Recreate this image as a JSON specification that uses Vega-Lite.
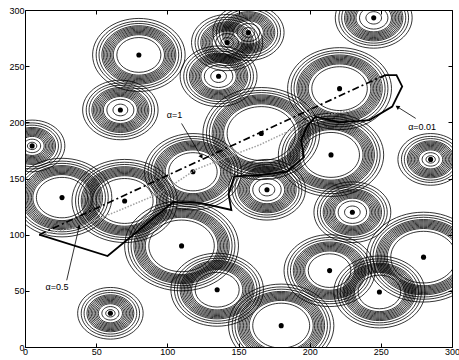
{
  "$schema": "https://vega.github.io/schema/vega-lite/v6.json",
  "width": 427,
  "height": 337,
  "autosize": {"type": "none"},
  "padding": {"left": 25, "top": 10, "right": 7, "bottom": 13},
  "background": "white",
  "config": {
    "view": {"stroke": "black", "strokeWidth": 1},
    "axis": {"domain": false, "grid": false, "title": null, "tickColor": "black", "tickSize": -4, "tickWidth": 1, "labelPadding": 4, "labelFontSize": 9, "labelFont": "Liberation Sans", "labelColor": "black", "labelFlush": false, "labelOverlap": false}
  },
  "datasets": {
    "rings": [
      {"x":80,"y":260,"r":15.5},{"x":80,"y":260,"r":18},{"x":80,"y":260,"r":19},{"x":80,"y":260,"r":20},{"x":80,"y":260,"r":21},{"x":80,"y":260,"r":22},{"x":80,"y":260,"r":23},{"x":80,"y":260,"r":24},{"x":80,"y":260,"r":25},{"x":80,"y":260,"r":26},{"x":80,"y":260,"r":28},{"x":80,"y":260,"r":30},{"x":80,"y":260,"r":32.5},
      {"x":67,"y":211,"r":5.2},{"x":67,"y":211,"r":9.5},{"x":67,"y":211,"r":12},{"x":67,"y":211,"r":13},{"x":67,"y":211,"r":14},{"x":67,"y":211,"r":15},{"x":67,"y":211,"r":16},{"x":67,"y":211,"r":17},{"x":67,"y":211,"r":18},{"x":67,"y":211,"r":19},{"x":67,"y":211,"r":20},{"x":67,"y":211,"r":22},{"x":67,"y":211,"r":24},{"x":67,"y":211,"r":26.5},
      {"x":5,"y":179,"r":3.3},{"x":5,"y":179,"r":6},{"x":5,"y":179,"r":8.5},{"x":5,"y":179,"r":9.5},{"x":5,"y":179,"r":10.5},{"x":5,"y":179,"r":11.5},{"x":5,"y":179,"r":12.5},{"x":5,"y":179,"r":13.5},{"x":5,"y":179,"r":14.5},{"x":5,"y":179,"r":15.5},{"x":5,"y":179,"r":16.5},{"x":5,"y":179,"r":18.5},{"x":5,"y":179,"r":20.5},{"x":5,"y":179,"r":23},
      {"x":157,"y":280,"r":4.4},{"x":157,"y":280,"r":8},{"x":157,"y":280,"r":10.5},{"x":157,"y":280,"r":11.5},{"x":157,"y":280,"r":12.5},{"x":157,"y":280,"r":13.5},{"x":157,"y":280,"r":14.5},{"x":157,"y":280,"r":15.5},{"x":157,"y":280,"r":16.5},{"x":157,"y":280,"r":17.5},{"x":157,"y":280,"r":18.5},{"x":157,"y":280,"r":20.5},{"x":157,"y":280,"r":22.5},{"x":157,"y":280,"r":25},
      {"x":142,"y":271,"r":4.4},{"x":142,"y":271,"r":8},{"x":142,"y":271,"r":10.5},{"x":142,"y":271,"r":11.5},{"x":142,"y":271,"r":12.5},{"x":142,"y":271,"r":13.5},{"x":142,"y":271,"r":14.5},{"x":142,"y":271,"r":15.5},{"x":142,"y":271,"r":16.5},{"x":142,"y":271,"r":17.5},{"x":142,"y":271,"r":18.5},{"x":142,"y":271,"r":20.5},{"x":142,"y":271,"r":22.5},{"x":142,"y":271,"r":25},
      {"x":136,"y":241,"r":5.5},{"x":136,"y":241,"r":10},{"x":136,"y":241,"r":12.5},{"x":136,"y":241,"r":13.5},{"x":136,"y":241,"r":14.5},{"x":136,"y":241,"r":15.5},{"x":136,"y":241,"r":16.5},{"x":136,"y":241,"r":17.5},{"x":136,"y":241,"r":18.5},{"x":136,"y":241,"r":19.5},{"x":136,"y":241,"r":20.5},{"x":136,"y":241,"r":22.5},{"x":136,"y":241,"r":24.5},{"x":136,"y":241,"r":27},
      {"x":166,"y":190,"r":24},{"x":166,"y":190,"r":26.5},{"x":166,"y":190,"r":27.5},{"x":166,"y":190,"r":28.5},{"x":166,"y":190,"r":29.5},{"x":166,"y":190,"r":30.5},{"x":166,"y":190,"r":31.5},{"x":166,"y":190,"r":32.5},{"x":166,"y":190,"r":33.5},{"x":166,"y":190,"r":34.5},{"x":166,"y":190,"r":36.5},{"x":166,"y":190,"r":38.5},{"x":166,"y":190,"r":41},
      {"x":118,"y":156,"r":17},{"x":118,"y":156,"r":19.5},{"x":118,"y":156,"r":20.5},{"x":118,"y":156,"r":21.5},{"x":118,"y":156,"r":22.5},{"x":118,"y":156,"r":23.5},{"x":118,"y":156,"r":24.5},{"x":118,"y":156,"r":25.5},{"x":118,"y":156,"r":26.5},{"x":118,"y":156,"r":27.5},{"x":118,"y":156,"r":29.5},{"x":118,"y":156,"r":31.5},{"x":118,"y":156,"r":34},
      {"x":245,"y":293,"r":5.5},{"x":245,"y":293,"r":10},{"x":245,"y":293,"r":12.5},{"x":245,"y":293,"r":13.5},{"x":245,"y":293,"r":14.5},{"x":245,"y":293,"r":15.5},{"x":245,"y":293,"r":16.5},{"x":245,"y":293,"r":17.5},{"x":245,"y":293,"r":18.5},{"x":245,"y":293,"r":19.5},{"x":245,"y":293,"r":20.5},{"x":245,"y":293,"r":22.5},{"x":245,"y":293,"r":24.5},{"x":245,"y":293,"r":27},
      {"x":221,"y":230,"r":19.5},{"x":221,"y":230,"r":22},{"x":221,"y":230,"r":23},{"x":221,"y":230,"r":24},{"x":221,"y":230,"r":25},{"x":221,"y":230,"r":26},{"x":221,"y":230,"r":27},{"x":221,"y":230,"r":28},{"x":221,"y":230,"r":29},{"x":221,"y":230,"r":30},{"x":221,"y":230,"r":32},{"x":221,"y":230,"r":34},{"x":221,"y":230,"r":36.5},
      {"x":215,"y":171,"r":20},{"x":215,"y":171,"r":22.5},{"x":215,"y":171,"r":23.5},{"x":215,"y":171,"r":24.5},{"x":215,"y":171,"r":25.5},{"x":215,"y":171,"r":26.5},{"x":215,"y":171,"r":27.5},{"x":215,"y":171,"r":28.5},{"x":215,"y":171,"r":29.5},{"x":215,"y":171,"r":30.5},{"x":215,"y":171,"r":32.5},{"x":215,"y":171,"r":34.5},{"x":215,"y":171,"r":37},
      {"x":285,"y":167,"r":3.3},{"x":285,"y":167,"r":6},{"x":285,"y":167,"r":8.5},{"x":285,"y":167,"r":9.5},{"x":285,"y":167,"r":10.5},{"x":285,"y":167,"r":11.5},{"x":285,"y":167,"r":12.5},{"x":285,"y":167,"r":13.5},{"x":285,"y":167,"r":14.5},{"x":285,"y":167,"r":15.5},{"x":285,"y":167,"r":16.5},{"x":285,"y":167,"r":18.5},{"x":285,"y":167,"r":20.5},{"x":285,"y":167,"r":23},
      {"x":26,"y":133,"r":18},{"x":26,"y":133,"r":20.5},{"x":26,"y":133,"r":21.5},{"x":26,"y":133,"r":22.5},{"x":26,"y":133,"r":23.5},{"x":26,"y":133,"r":24.5},{"x":26,"y":133,"r":25.5},{"x":26,"y":133,"r":26.5},{"x":26,"y":133,"r":27.5},{"x":26,"y":133,"r":28.5},{"x":26,"y":133,"r":30.5},{"x":26,"y":133,"r":32.5},{"x":26,"y":133,"r":35},
      {"x":70,"y":130,"r":20},{"x":70,"y":130,"r":22.5},{"x":70,"y":130,"r":23.5},{"x":70,"y":130,"r":24.5},{"x":70,"y":130,"r":25.5},{"x":70,"y":130,"r":26.5},{"x":70,"y":130,"r":27.5},{"x":70,"y":130,"r":28.5},{"x":70,"y":130,"r":29.5},{"x":70,"y":130,"r":30.5},{"x":70,"y":130,"r":32.5},{"x":70,"y":130,"r":34.5},{"x":70,"y":130,"r":37},
      {"x":60,"y":30,"r":3.3},{"x":60,"y":30,"r":6},{"x":60,"y":30,"r":8.5},{"x":60,"y":30,"r":9.5},{"x":60,"y":30,"r":10.5},{"x":60,"y":30,"r":11.5},{"x":60,"y":30,"r":12.5},{"x":60,"y":30,"r":13.5},{"x":60,"y":30,"r":14.5},{"x":60,"y":30,"r":15.5},{"x":60,"y":30,"r":16.5},{"x":60,"y":30,"r":18.5},{"x":60,"y":30,"r":20.5},{"x":60,"y":30,"r":23},
      {"x":170,"y":140,"r":5.5},{"x":170,"y":140,"r":10},{"x":170,"y":140,"r":12.5},{"x":170,"y":140,"r":13.5},{"x":170,"y":140,"r":14.5},{"x":170,"y":140,"r":15.5},{"x":170,"y":140,"r":16.5},{"x":170,"y":140,"r":17.5},{"x":170,"y":140,"r":18.5},{"x":170,"y":140,"r":19.5},{"x":170,"y":140,"r":20.5},{"x":170,"y":140,"r":22.5},{"x":170,"y":140,"r":24.5},{"x":170,"y":140,"r":27},
      {"x":110,"y":90,"r":23},{"x":110,"y":90,"r":25.5},{"x":110,"y":90,"r":26.5},{"x":110,"y":90,"r":27.5},{"x":110,"y":90,"r":28.5},{"x":110,"y":90,"r":29.5},{"x":110,"y":90,"r":30.5},{"x":110,"y":90,"r":31.5},{"x":110,"y":90,"r":32.5},{"x":110,"y":90,"r":33.5},{"x":110,"y":90,"r":35.5},{"x":110,"y":90,"r":37.5},{"x":110,"y":90,"r":40},
      {"x":135,"y":51,"r":15.5},{"x":135,"y":51,"r":18},{"x":135,"y":51,"r":19},{"x":135,"y":51,"r":20},{"x":135,"y":51,"r":21},{"x":135,"y":51,"r":22},{"x":135,"y":51,"r":23},{"x":135,"y":51,"r":24},{"x":135,"y":51,"r":25},{"x":135,"y":51,"r":26},{"x":135,"y":51,"r":28},{"x":135,"y":51,"r":30},{"x":135,"y":51,"r":32.5},
      {"x":180,"y":19,"r":20},{"x":180,"y":19,"r":22.5},{"x":180,"y":19,"r":23.5},{"x":180,"y":19,"r":24.5},{"x":180,"y":19,"r":25.5},{"x":180,"y":19,"r":26.5},{"x":180,"y":19,"r":27.5},{"x":180,"y":19,"r":28.5},{"x":180,"y":19,"r":29.5},{"x":180,"y":19,"r":30.5},{"x":180,"y":19,"r":32.5},{"x":180,"y":19,"r":34.5},{"x":180,"y":19,"r":37},
      {"x":230,"y":120,"r":5.5},{"x":230,"y":120,"r":10},{"x":230,"y":120,"r":12.5},{"x":230,"y":120,"r":13.5},{"x":230,"y":120,"r":14.5},{"x":230,"y":120,"r":15.5},{"x":230,"y":120,"r":16.5},{"x":230,"y":120,"r":17.5},{"x":230,"y":120,"r":18.5},{"x":230,"y":120,"r":19.5},{"x":230,"y":120,"r":20.5},{"x":230,"y":120,"r":22.5},{"x":230,"y":120,"r":24.5},{"x":230,"y":120,"r":27},
      {"x":214,"y":68,"r":15},{"x":214,"y":68,"r":17.5},{"x":214,"y":68,"r":18.5},{"x":214,"y":68,"r":19.5},{"x":214,"y":68,"r":20.5},{"x":214,"y":68,"r":21.5},{"x":214,"y":68,"r":22.5},{"x":214,"y":68,"r":23.5},{"x":214,"y":68,"r":24.5},{"x":214,"y":68,"r":25.5},{"x":214,"y":68,"r":27.5},{"x":214,"y":68,"r":29.5},{"x":214,"y":68,"r":32},
      {"x":249,"y":49,"r":15},{"x":249,"y":49,"r":17.5},{"x":249,"y":49,"r":18.5},{"x":249,"y":49,"r":19.5},{"x":249,"y":49,"r":20.5},{"x":249,"y":49,"r":21.5},{"x":249,"y":49,"r":22.5},{"x":249,"y":49,"r":23.5},{"x":249,"y":49,"r":24.5},{"x":249,"y":49,"r":25.5},{"x":249,"y":49,"r":27.5},{"x":249,"y":49,"r":29.5},{"x":249,"y":49,"r":32},
      {"x":280,"y":80,"r":23},{"x":280,"y":80,"r":25.5},{"x":280,"y":80,"r":26.5},{"x":280,"y":80,"r":27.5},{"x":280,"y":80,"r":28.5},{"x":280,"y":80,"r":29.5},{"x":280,"y":80,"r":30.5},{"x":280,"y":80,"r":31.5},{"x":280,"y":80,"r":32.5},{"x":280,"y":80,"r":33.5},{"x":280,"y":80,"r":35.5},{"x":280,"y":80,"r":37.5},{"x":280,"y":80,"r":40}
    ],
    "centers": [
      {"x":80,"y":260},{"x":67,"y":211},{"x":5,"y":179},{"x":157,"y":280},{"x":142,"y":271},{"x":136,"y":241},{"x":166,"y":190},{"x":118,"y":156},{"x":245,"y":293},{"x":221,"y":230},{"x":215,"y":171},{"x":285,"y":167},{"x":26,"y":133},{"x":70,"y":130},{"x":60,"y":30},{"x":170,"y":140},{"x":110,"y":90},{"x":135,"y":51},{"x":180,"y":19},{"x":230,"y":120},{"x":214,"y":68},{"x":249,"y":49},{"x":280,"y":80}
    ],
    "paths": [
      {"p":"d","i":0,"x":10,"y":100},{"p":"d","i":1,"x":250,"y":240.5},
      {"p":"g","i":0,"x":10,"y":100},{"p":"g","i":1,"x":38,"y":107},{"p":"g","i":2,"x":65,"y":121},{"p":"g","i":3,"x":95,"y":137},{"p":"g","i":4,"x":120,"y":158},{"p":"g","i":5,"x":140,"y":168},{"p":"g","i":6,"x":165,"y":180},{"p":"g","i":7,"x":190,"y":195},{"p":"g","i":8,"x":205,"y":205},{"p":"g","i":9,"x":225,"y":210},{"p":"g","i":10,"x":245,"y":212},{"p":"g","i":11,"x":250,"y":225},{"p":"g","i":12,"x":250,"y":240},
      {"p":"s","i":0,"x":10,"y":100},{"p":"s","i":1,"x":58,"y":81},{"p":"s","i":2,"x":104,"y":129},{"p":"s","i":3,"x":124,"y":128},{"p":"s","i":4,"x":145,"y":122},{"p":"s","i":5,"x":143,"y":136},{"p":"s","i":6,"x":147,"y":152},{"p":"s","i":7,"x":165,"y":153},{"p":"s","i":8,"x":184,"y":156},{"p":"s","i":9,"x":196,"y":169},{"p":"s","i":10,"x":194,"y":184},{"p":"s","i":11,"x":198,"y":196},{"p":"s","i":12,"x":204,"y":205},{"p":"s","i":13,"x":221,"y":200},{"p":"s","i":14,"x":242,"y":202},{"p":"s","i":15,"x":258,"y":214},{"p":"s","i":16,"x":265,"y":232},{"p":"s","i":17,"x":261,"y":242},{"p":"s","i":18,"x":253,"y":242},{"p":"s","i":19,"x":250,"y":240}
    ],
    "arrows": [
      {"a":"a1","i":0,"x":110,"y":199},{"a":"a1","i":1,"x":124,"y":169.3},
      {"a":"a05","i":0,"x":29.3,"y":59.4},{"a":"a05","i":1,"x":38,"y":107},
      {"a":"a001","i":0,"x":274.5,"y":203.5},{"a":"a001","i":1,"x":261.6,"y":213.8}
    ],
    "heads": [
      {"a":"a1","x":124,"y":169.3},{"a":"a05","x":38,"y":107},{"a":"a001","x":261.6,"y":213.8}
    ],
    "labels": [
      {"t":"α=1","x":105,"y":206.5},{"t":"α=0.5","x":22.5,"y":53},{"t":"α=0.01","x":279,"y":196}
    ]
  },
  "resolve": {"axis": {"x": "independent", "y": "independent"}},
  "layer": [
    {
      "data": {"name": "rings"},
      "mark": {"type": "point", "shape": "M1,0C1,0.4358,0.5523,0.789,0,0.789C-0.5523,0.789,-1,0.4358,-1,0C-1,-0.4358,-0.5523,-0.789,0,-0.789C0.5523,-0.789,1,-0.4358,1,0Z", "filled": false, "color": "black", "stroke": "black", "strokeWidth": 0.8, "opacity": 1, "clip": true},
      "encoding": {
        "x": {"field": "x", "type": "quantitative", "scale": {"domain": [0, 300], "nice": false, "zero": false}, "axis": {"orient": "bottom", "values": [0, 50, 100, 150, 200, 250, 300], "labelPadding": 4, "labelBaseline": "top"}},
        "y": {"field": "y", "type": "quantitative", "scale": {"domain": [0, 300], "nice": false, "zero": false}, "axis": {"orient": "left", "values": [0, 50, 100, 150, 200, 250, 300], "labelPadding": 5}},
        "size": {"field": "r", "type": "quantitative", "scale": {"type": "pow", "exponent": 2, "domain": [0, 50], "range": [0, 20259]}, "legend": null}
      }
    },
    {
      "data": {"name": "centers"},
      "mark": {"type": "point", "shape": "circle", "filled": true, "color": "black", "size": 26, "opacity": 1},
      "encoding": {
        "x": {"field": "x", "type": "quantitative", "scale": {"domain": [0, 300], "nice": false, "zero": false}, "axis": {"orient": "top", "labels": false, "values": [0, 50, 100, 150, 200, 250, 300]}},
        "y": {"field": "y", "type": "quantitative", "scale": {"domain": [0, 300], "nice": false, "zero": false}, "axis": {"orient": "right", "labels": false, "values": [0, 50, 100, 150, 200, 250, 300]}}
      }
    },
    {
      "data": {"name": "paths"},
      "transform": [{"filter": "datum.p === 'g'"}],
      "mark": {"type": "line", "color": "#a0a0a0", "strokeWidth": 1.5, "strokeDash": [1.5, 1.5]},
      "encoding": {
        "x": {"field": "x", "type": "quantitative", "scale": {"domain": [0, 300]}, "axis": null},
        "y": {"field": "y", "type": "quantitative", "scale": {"domain": [0, 300]}, "axis": null},
        "order": {"field": "i", "type": "quantitative"}
      }
    },
    {
      "data": {"name": "paths"},
      "transform": [{"filter": "datum.p === 'd'"}],
      "mark": {"type": "line", "color": "black", "strokeWidth": 1.7, "strokeDash": [7, 3, 2, 3]},
      "encoding": {
        "x": {"field": "x", "type": "quantitative", "scale": {"domain": [0, 300]}, "axis": null},
        "y": {"field": "y", "type": "quantitative", "scale": {"domain": [0, 300]}, "axis": null},
        "order": {"field": "i", "type": "quantitative"}
      }
    },
    {
      "data": {"name": "paths"},
      "transform": [{"filter": "datum.p === 's'"}],
      "mark": {"type": "line", "color": "black", "strokeWidth": 1.8},
      "encoding": {
        "x": {"field": "x", "type": "quantitative", "scale": {"domain": [0, 300]}, "axis": null},
        "y": {"field": "y", "type": "quantitative", "scale": {"domain": [0, 300]}, "axis": null},
        "order": {"field": "i", "type": "quantitative"}
      }
    },
    {
      "data": {"name": "arrows"},
      "mark": {"type": "line", "color": "black", "strokeWidth": 0.8},
      "encoding": {
        "x": {"field": "x", "type": "quantitative", "scale": {"domain": [0, 300]}, "axis": null},
        "y": {"field": "y", "type": "quantitative", "scale": {"domain": [0, 300]}, "axis": null},
        "detail": {"field": "a"},
        "order": {"field": "i", "type": "quantitative"}
      }
    },
    {
      "data": {"name": "heads"},
      "transform": [{"filter": "datum.a === 'a1'"}],
      "mark": {"type": "point", "shape": "triangle-up", "filled": true, "color": "black", "size": 22, "opacity": 1, "angle": 149},
      "encoding": {
        "x": {"field": "x", "type": "quantitative", "scale": {"domain": [0, 300]}, "axis": null},
        "y": {"field": "y", "type": "quantitative", "scale": {"domain": [0, 300]}, "axis": null}
      }
    },
    {
      "data": {"name": "heads"},
      "transform": [{"filter": "datum.a === 'a05'"}],
      "mark": {"type": "point", "shape": "triangle-up", "filled": true, "color": "black", "size": 22, "opacity": 1, "angle": 13},
      "encoding": {
        "x": {"field": "x", "type": "quantitative", "scale": {"domain": [0, 300]}, "axis": null},
        "y": {"field": "y", "type": "quantitative", "scale": {"domain": [0, 300]}, "axis": null}
      }
    },
    {
      "data": {"name": "heads"},
      "transform": [{"filter": "datum.a === 'a001'"}],
      "mark": {"type": "point", "shape": "triangle-up", "filled": true, "color": "black", "size": 22, "opacity": 1, "angle": 302},
      "encoding": {
        "x": {"field": "x", "type": "quantitative", "scale": {"domain": [0, 300]}, "axis": null},
        "y": {"field": "y", "type": "quantitative", "scale": {"domain": [0, 300]}, "axis": null}
      }
    },
    {
      "data": {"name": "labels"},
      "mark": {"type": "text", "font": "Liberation Sans", "fontSize": 9, "color": "black", "align": "center", "baseline": "middle"},
      "encoding": {
        "x": {"field": "x", "type": "quantitative", "scale": {"domain": [0, 300]}, "axis": null},
        "y": {"field": "y", "type": "quantitative", "scale": {"domain": [0, 300]}, "axis": null},
        "text": {"field": "t"}
      }
    }
  ]
}
